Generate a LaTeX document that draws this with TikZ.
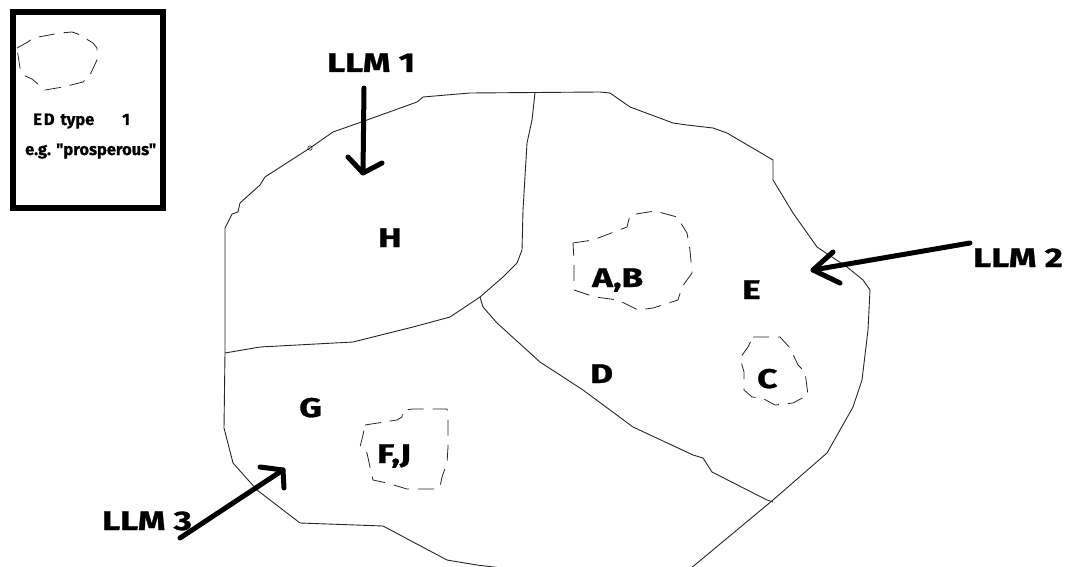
\documentclass[tikz,border=0pt]{standalone}
\usepackage{fontspec}
\setmainfont{Fira Sans}[Ligatures=TeXOff]
\newfontfamily\lblfont{Fira Sans}[Ligatures=TeXOff,FakeStretch=1.3,FakeBold=1]
\newfontfamily\legfont{Fira Sans}[Ligatures=TeXOff,FakeBold=0.8]
\begin{document}
\begin{tikzpicture}[x=1pt,y=-1pt,
  region/.style={draw=black!85,line width=0.9pt,line join=round},
  blob/.style={draw=black!85,line width=0.8pt,dash pattern=on 16pt off 9pt,line join=round},
  lbl/.style={inner sep=0pt,anchor=base west,font=\lblfont\fontsize{27}{27}\selectfont\bfseries},
  legtxt/.style={inner sep=0pt,anchor=base west,font=\legfont\fontsize{16.5}{16.5}\selectfont\bfseries},
  arr/.style={line width=5pt,line cap=round,line join=round}]
\useasboundingbox (0,0) rectangle (1068,567);
\clip (0,0) rectangle (1068,567);
% legend
\node[draw,line width=6pt,minimum width=150pt,minimum height=195pt,inner sep=0pt] (legend) at (88,110) {};
\draw[blob] (17,48) -- (28,42) -- (33,38) -- (60,33) -- (72,32) -- (78,34) -- (93,43) -- (97,48) -- (97,60) -- (90,75) -- (83,82) -- (63,87) -- (45,90) -- (32,79) -- (23,75) -- (20,68) -- cycle;
\node[legtxt] (edtype) at (33,125) {E\hspace{2pt}D\hspace{2pt} type\hspace{28pt}1};
\node[legtxt] (eg) at (25,155) {e.g. "prosperous"};
% outline
\draw[region] (225,228) -- (232,214) -- (238,212) -- (240,203) -- (260,185) -- (265,177) -- (310,148) -- (333,132) -- (367,120) -- (417,102) -- (423,97) -- (470,93) -- (600,92) -- (610,93) -- (630,107) -- (673,123) -- (687,125) -- (713,128) -- (727,133) -- (773,160) -- (773,180) -- (793,213) -- (817,247) -- (847,267) -- (863,280) -- (870,290) -- (868,330) -- (862,380) -- (853,407) -- (827,453) -- (773,500) -- (690,569) -- (640,575) -- (560,575) -- (477,565) -- (447,560) -- (383,526) -- (300,523) -- (257,490) -- (233,463) -- (224,428) -- (225,353) -- cycle;
\draw[black!85,line width=0.6pt] (310,148) circle (2.2pt);
% internal boundaries
\coordinate (top) at (535,93);
\coordinate (jn) at (480,297);
\coordinate (lft) at (225,353);
\coordinate (bot) at (773,502);
\draw[region] (top) -- (532,120) -- (527,143) -- (523,210) -- (522,250) -- (517,263) -- (503,277) -- (jn);
\draw[region] (jn) -- (450,317) -- (413,327) -- (353,342) -- (260,347) -- (lft);
\draw[region] (jn) -- (483,307) -- (497,323) -- (540,362) -- (583,390) -- (633,427) -- (693,455) -- (703,458) -- (712,472) -- (767,500) -- (bot);
% dashed clusters
\draw[blob] (573,243) -- (593,240) -- (627,227) -- (630,215) -- (655,211) -- (677,217) -- (687,233) -- (690,250) -- (692,273) -- (682,287) -- (678,300) -- (653,308) -- (638,310) -- (618,300) -- (595,297) -- (574,290) -- (574,260) -- cycle;
\draw[blob] (753,337) -- (780,337) -- (790,348) -- (798,365) -- (805,372) -- (808,395) -- (793,403) -- (775,405) -- (762,398) -- (752,397) -- (744,390) -- (744,372) -- (740,358) -- (748,347) -- cycle;
\draw[blob] (365,425) -- (397,420) -- (402,417) -- (403,410) -- (413,409) -- (447,409) -- (448,417) -- (448,447) -- (447,463) -- (442,477) -- (440,487) -- (437,489) -- (407,489) -- (387,483) -- (373,480) -- (370,467) -- (367,453) -- (360,447) -- (363,435) -- cycle;
% labels
\node[lbl] (H) at (378,247) {H};
\node[lbl] (AB) at (592,287) {A,B};
\node[lbl] (E) at (742,299) {E};
\node[lbl] (D) at (590,383) {D};
\node[lbl] (C) at (757,388) {C};
\node[lbl] (G) at (299,417) {G};
\node[lbl] (FJ) at (377,463) {F,J};
\node[lbl] (llm1) at (327,72) {LLM 1};
\node[lbl] (llm2) at (973,267) {LLM 2};
\node[lbl] (llm3) at (102,530) {LLM 3};
% arrows
\coordinate (a1s) at (364,88);
\coordinate (a1e) at (363,173);
\draw[arr] (a1s) -- (a1e);
\draw[arr] (348,157) -- (a1e) -- (382,163);
\coordinate (a2s) at (970,243);
\coordinate (a2e) at (813,270);
\draw[arr] (a2s) -- (a2e);
\draw[arr] (833,252) -- (a2e) -- (840,283);
\coordinate (a3s) at (180,538);
\coordinate (a3e) at (283,470);
\draw[arr] (a3s) -- (a3e);
\draw[arr] (260,467) -- (a3e) -- (284,488);
\end{tikzpicture}
\end{document}
